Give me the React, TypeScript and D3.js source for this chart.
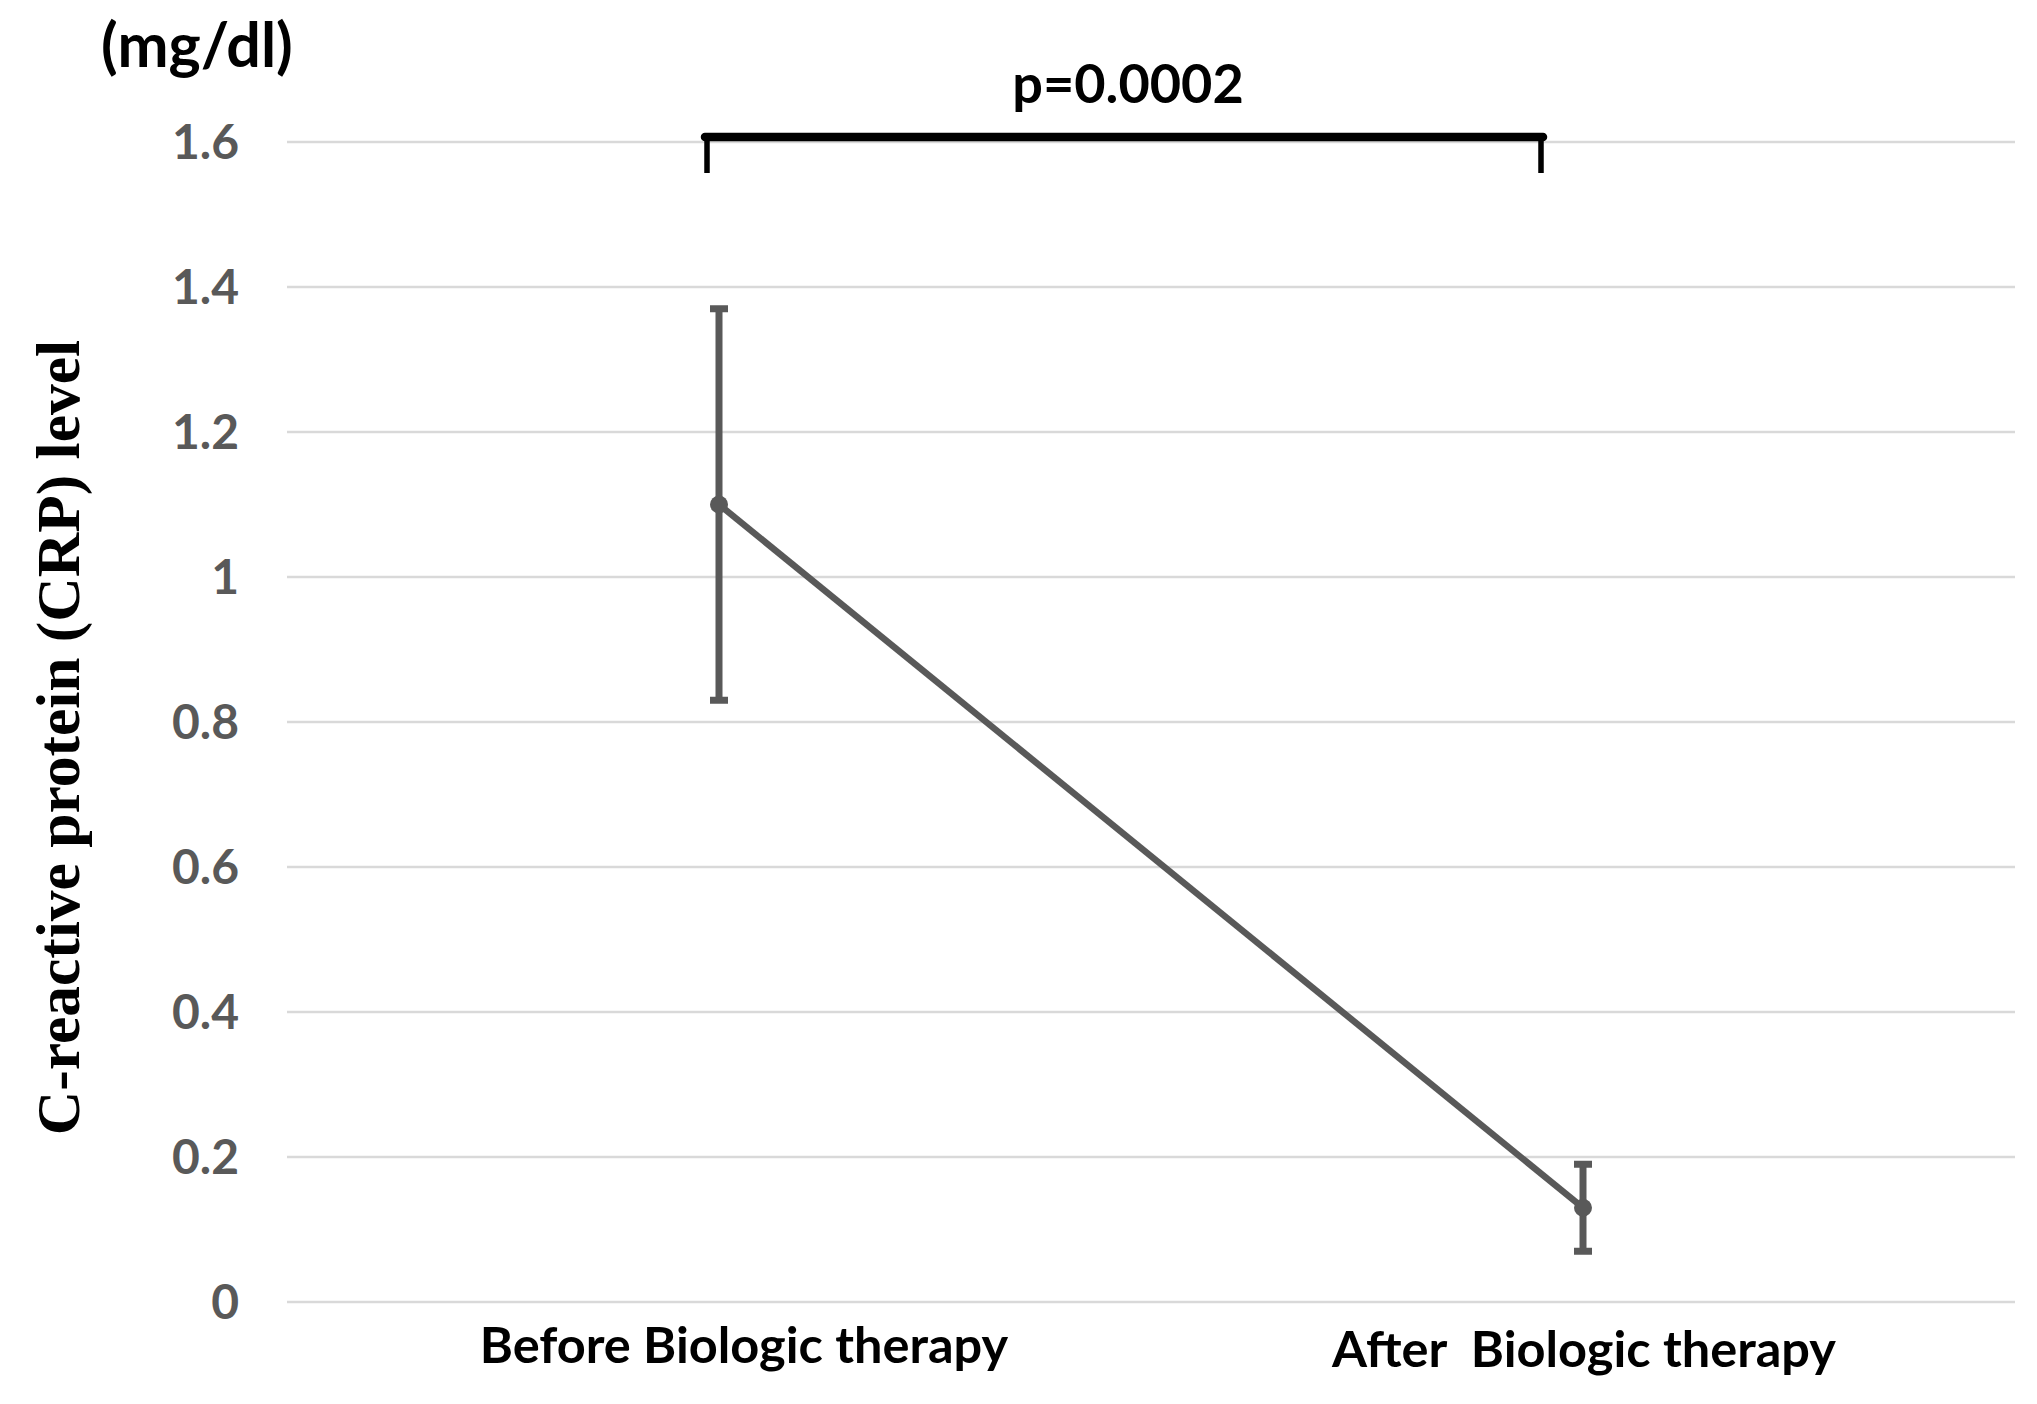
import React from "react";
import * as d3 from "d3";

const categories = ["Before Biologic therapy", "After  Biologic therapy"];
const means = [1.1, 0.13];
const upper = [1.37, 0.19];
const lower = [0.83, 0.07];
const yTicks = [0, 0.2, 0.4, 0.6, 0.8, 1, 1.2, 1.4, 1.6];
const yTickLabels = ["0", "0.2", "0.4", "0.6", "0.8", "1", "1.2", "1.4", "1.6"];
const unitLabel = "(mg/dl)";
const yTitle = "C-reactive protein (CRP) level";
const pLabel = "p=0.0002";

const W = 2037;
const H = 1404;
const plot = { left: 287, right: 2015, top: 142, bottom: 1302 };
const ink = "#595959";

export default function App() {
  React.useEffect(() => {
    document.body.style.margin = "0";
  }, []);

  const x = d3
    .scalePoint<string>()
    .domain(categories)
    .range([plot.left, plot.right])
    .padding(0.5);
  const y = d3.scaleLinear().domain([0, 1.6]).range([plot.bottom, plot.top]);

  const line = d3
    .line<number>()
    .x((_, i) => x(categories[i]) as number)
    .y((d) => y(d));

  const sans = "Lato, 'Open Sans', sans-serif";
  const bx1 = (x(categories[0]) as number) - 12;
  const bx2 = (x(categories[1]) as number) - 42;
  const bTop = y(1.6) - 5;

  return (
    <svg width={W} height={H} style={{ display: "block", background: "#fff" }}>
      <rect width={W} height={H} fill="#fff" />
      {yTicks.map((t) => (
        <line
          key={t}
          x1={plot.left}
          x2={plot.right}
          y1={y(t)}
          y2={y(t)}
          stroke="#d9d9d9"
          strokeWidth={2.5}
        />
      ))}
      {yTicks.map((t, i) => (
        <text
          key={"l" + t}
          x={239}
          y={y(t) + 17}
          textAnchor="end"
          fontFamily={sans}
          fontWeight="bold"
          fontSize={48}
          fill={ink}
        >
          {yTickLabels[i]}
        </text>
      ))}
      <text x={101} y={67} fontFamily={sans} fontWeight="bold" fontSize={61} fill="#000">
        {unitLabel}
      </text>
      <text
        transform={`translate(79, 737.5) rotate(-90)`}
        textAnchor="middle"
        fontFamily="'Liberation Serif', 'Times New Roman', serif"
        fontWeight="bold"
        fontSize={61.5}
        fill="#000"
      >
        {yTitle}
      </text>
      {categories.map((c, i) => (
        <text
          key={c}
          x={(x(c) as number) + (i === 0 ? 25 : 1)}
          y={i === 0 ? 1363 : 1367}
          textAnchor="middle"
          fontFamily={sans}
          fontWeight="bold"
          fontSize={50.5}
          fill="#000"
          style={{ whiteSpace: "pre" }}
        >
          {c}
        </text>
      ))}
      {categories.map((c, i) => {
        const cx = x(c) as number;
        return (
          <g key={"e" + c} stroke={ink}>
            <line x1={cx} x2={cx} y1={y(upper[i])} y2={y(lower[i])} strokeWidth={7} />
            <line x1={cx - 9} x2={cx + 9} y1={y(upper[i])} y2={y(upper[i])} strokeWidth={7} />
            <line x1={cx - 9} x2={cx + 9} y1={y(lower[i])} y2={y(lower[i])} strokeWidth={7} />
          </g>
        );
      })}
      <path d={line(means) as string} fill="none" stroke={ink} strokeWidth={6.5} />
      {means.map((m, i) => (
        <circle key={"m" + i} cx={x(categories[i]) as number} cy={y(m)} r={9} fill={ink} />
      ))}
      <path
        d={`M${bx1},${bTop + 36} L${bx1},${bTop} M${bx2},${bTop} L${bx2},${bTop + 36}`}
        fill="none"
        stroke="#000"
        strokeWidth={5.5}
      />
      <path
        d={`M${bx1 - 2},${bTop} L${bx2 + 2},${bTop}`}
        fill="none"
        stroke="#000"
        strokeWidth={8.5}
        strokeLinecap="round"
      />
      <text
        x={(bx1 + bx2) / 2 + 4}
        y={103}
        textAnchor="middle"
        fontFamily={sans}
        fontWeight="bold"
        fontSize={54}
        fill="#000"
      >
        {pLabel}
      </text>
    </svg>
  );
}
